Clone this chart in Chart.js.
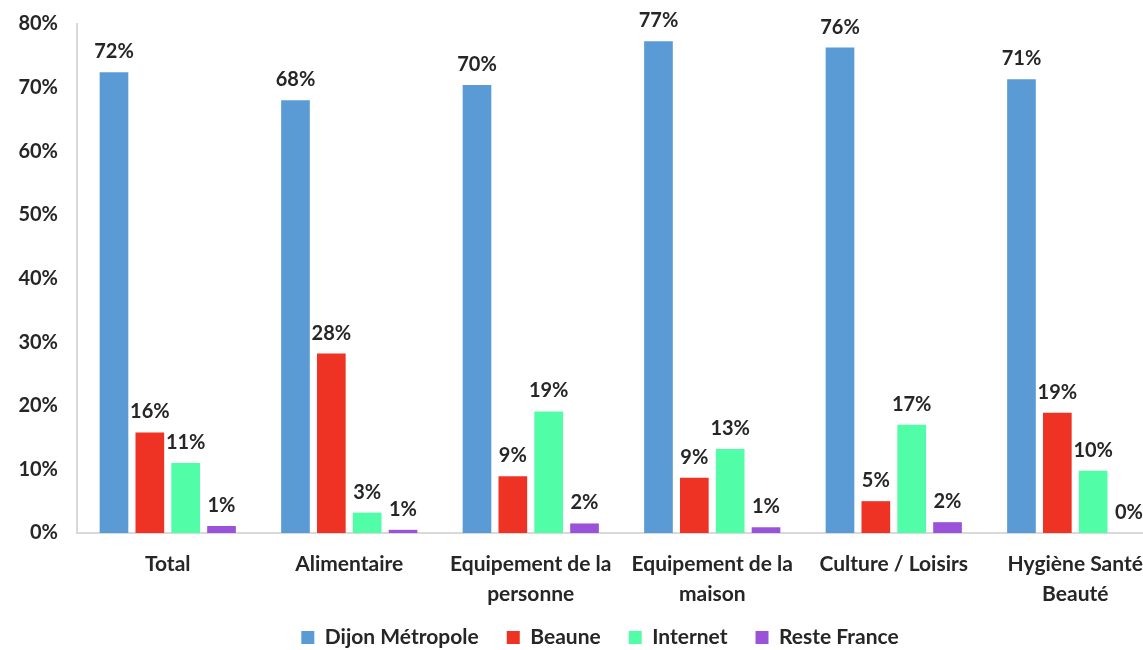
<!DOCTYPE html>
<html>
<head>
<meta charset="utf-8">
<script src="https://cdn.jsdelivr.net/npm/chart.js@4/dist/chart.umd.min.js"></script>
<style>
  html, body { margin: 0; padding: 0; background: #fff; overflow: hidden; }
  #wrap { width: 1143px; height: 650px; overflow: hidden; }
</style>
</head>
<body>
<div id="wrap"><canvas id="chart" width="1198" height="668"></canvas></div>
<script>
"use strict";

// categories (multi-line labels as arrays)
var categories = [
    "Total",
    "Alimentaire",
    ["Equipement de la", "personne"],
    ["Equipement de la", "maison"],
    "Culture / Loisirs",
    ["Hygiène Santé", "Beauté"],
];

// series values in %
var dijon = [72.4, 68.0, 70.4, 77.3, 76.3, 71.3];
var beaune = [15.8, 28.2, 8.9, 8.7, 5.0, 18.9];
var internet = [11.0, 3.2, 19.1, 13.2, 17.0, 9.8];
var resteFrance = [1.1, 0.5, 1.5, 0.9, 1.7, 0.0];

var yTicks = [0, 10, 20, 30, 40, 50, 60, 70, 80];

var FONT = "Lato";
var TEXT = "#262626";

// draws the % value above each bar
var valueLabels = {
    id: "valueLabels",
    afterDatasetsDraw: function (chart) {
        var ctx = chart.ctx;
        ctx.save();
        ctx.font = "bold 20px " + FONT;
        ctx.fillStyle = TEXT;
        ctx.textAlign = "center";
        ctx.textBaseline = "alphabetic";
        chart.data.datasets.forEach(function (ds, i) {
            chart.getDatasetMeta(i).data.forEach(function (bar, j) {
                ctx.fillText(Math.round(ds.data[j]) + "%", bar.x, bar.y - 14);
            });
        });
        ctx.restore();
    }
};

var ctx = document.getElementById("chart").getContext("2d");

var myChart = new Chart(ctx, {
    type: "bar",
    data: {
        labels: categories,
        datasets: [
            { label: "Dijon Métropole", data: dijon, backgroundColor: "#5b9bd5" },
            { label: "Beaune", data: beaune, backgroundColor: "#ee3224" },
            { label: "Internet", data: internet, backgroundColor: "#52fda7" },
            { label: "Reste France", data: resteFrance, backgroundColor: "#9a52d8" },
        ],
    },
    options: {
        responsive: false,
        animation: false,
        categoryPercentage: 0.79,
        barPercentage: 0.8,
        layout: { padding: { top: 24, right: 32, left: 34, bottom: 10 } },
        plugins: {
            legend: {
                position: "bottom",
                labels: {
                    boxWidth: 13,
                    boxHeight: 13,
                    padding: 28,
                    color: TEXT,
                    font: { family: FONT, size: 21, weight: "bold" },
                },
            },
            tooltip: { enabled: false },
        },
        scales: {
            x: {
                afterFit: function (scale) {
                    scale.height = 66;
                    // second label line runs into the legend area
                    scale._computeLabelArea = function () {};
                },
                grid: { display: false },
                border: { display: true, color: "#d9d9d9", width: 2 },
                ticks: {
                    color: TEXT,
                    padding: 9,
                    maxRotation: 0,
                    autoSkip: false,
                    font: { family: FONT, size: 21, weight: "bold", lineHeight: 1.4 },
                },
            },
            y: {
                min: 0,
                max: 80,
                afterFit: function (scale) {
                    scale.width = 43;
                    scale.paddingTop = 0;
                    scale.paddingBottom = 0;
                    // tick labels reach into the left padding, so no clipping
                    scale._computeLabelArea = function () {};
                },
                afterBuildTicks: function (scale) {
                    scale.ticks = yTicks.map(function (v) { return { value: v }; });
                },
                grid: { display: false },
                border: { display: true, color: "#d9d9d9", width: 2 },
                ticks: {
                    color: TEXT,
                    padding: 11,
                    font: { family: FONT, size: 20, weight: "bold" },
                    callback: function (v) { return v + "%"; },
                },
            },
        },
    },
    plugins: [valueLabels],
});
</script>
</body>
</html>
